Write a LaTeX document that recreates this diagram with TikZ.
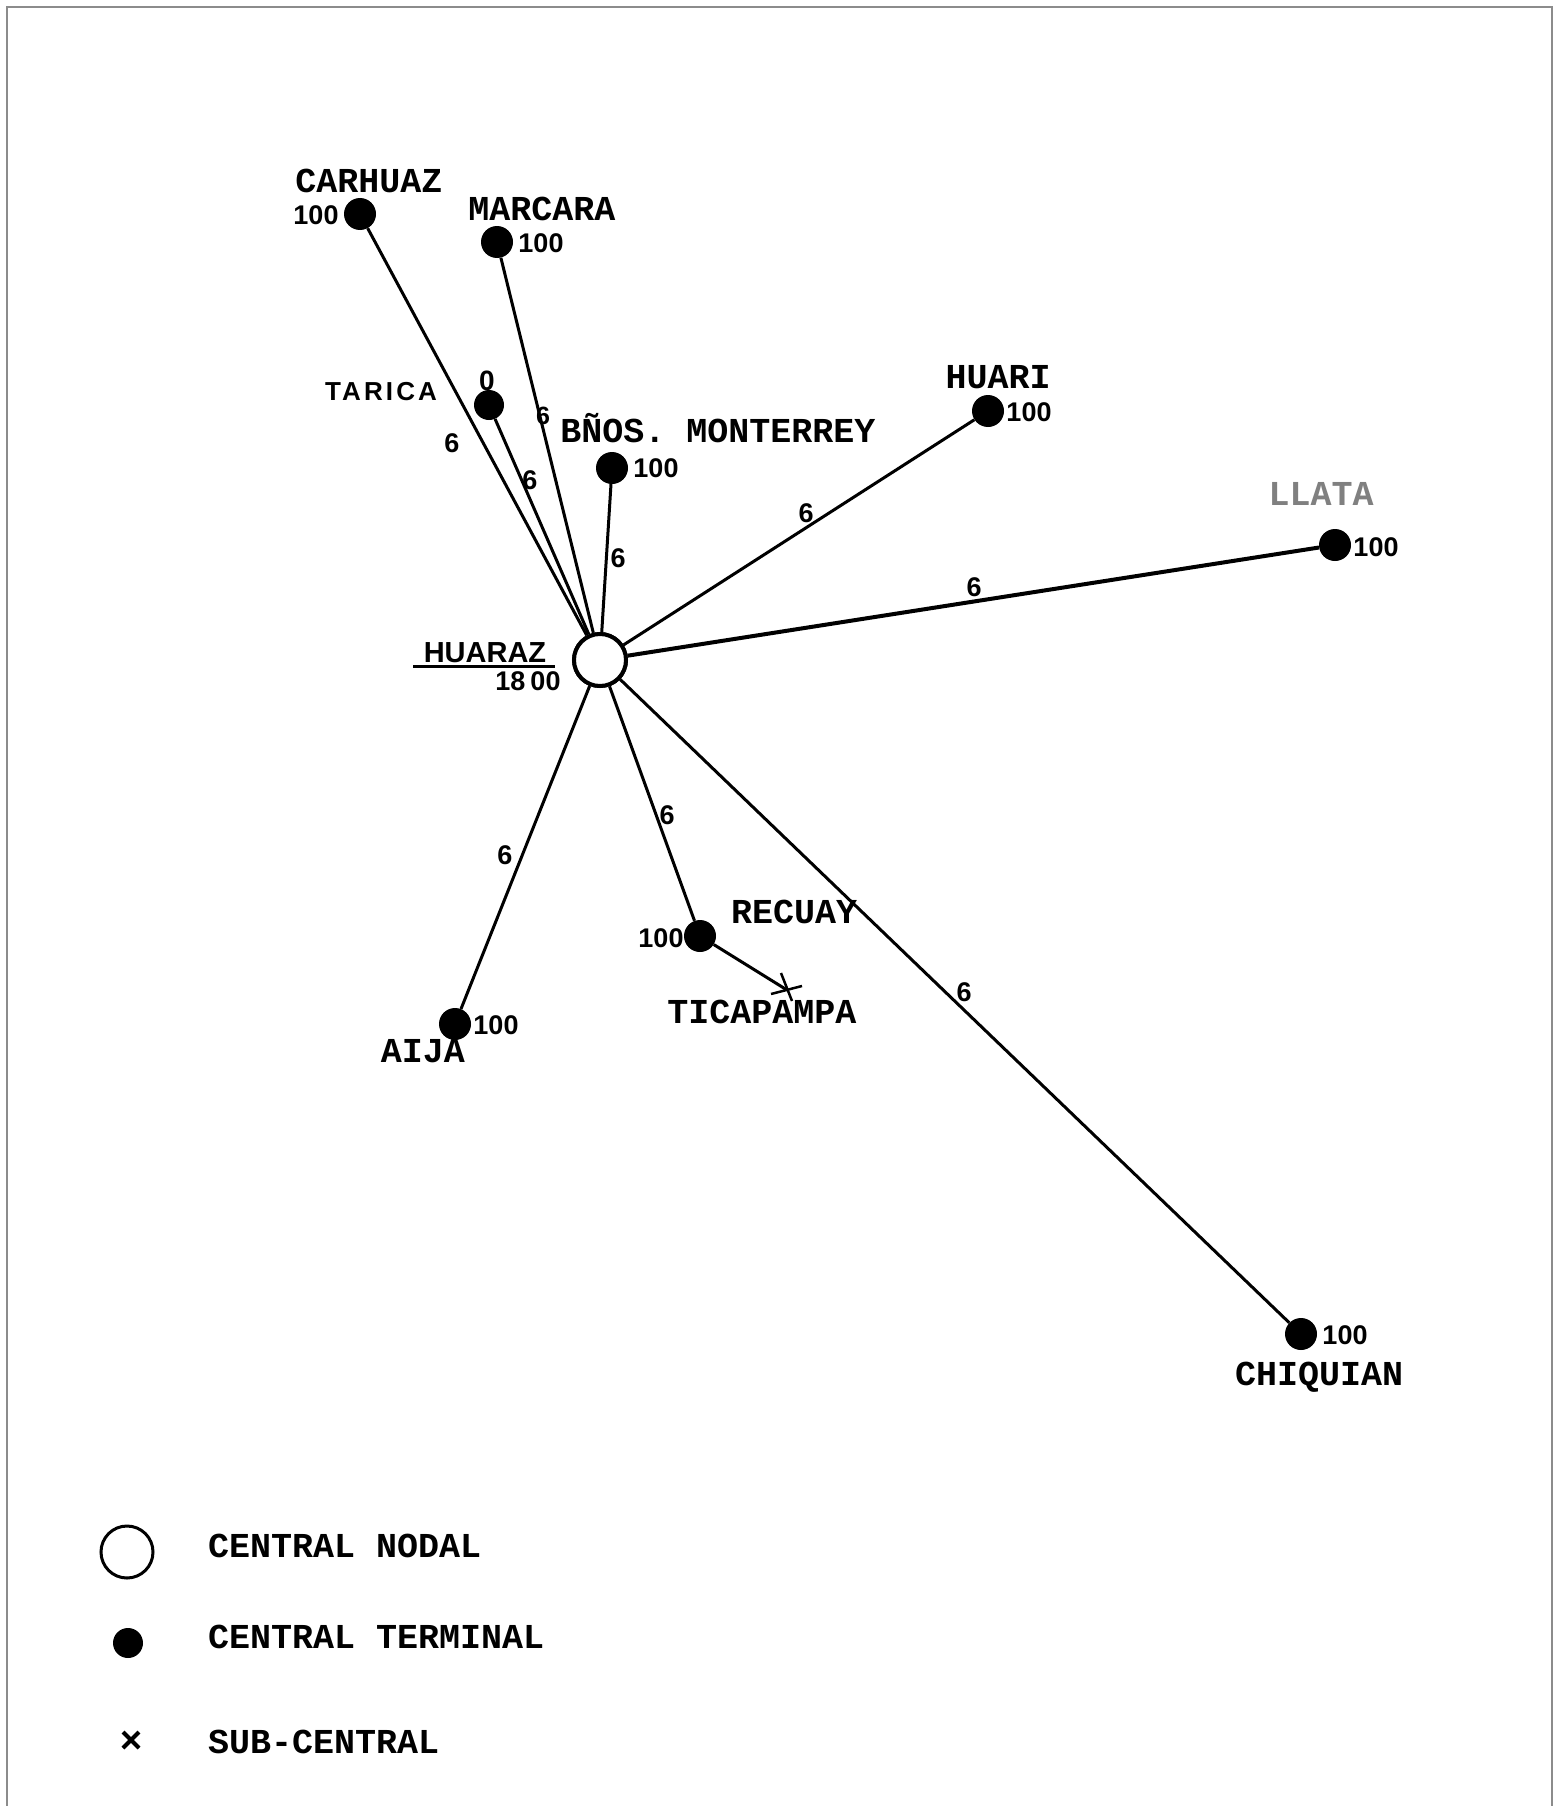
\documentclass[tikz,border=0pt]{standalone}
\usepackage{fontspec}
\newfontfamily\tw{Liberation Mono}
\newfontfamily\lr{Liberation Sans}
\newfontfamily\lrs[LetterSpace=12]{Liberation Sans}
\begin{document}
\begin{tikzpicture}[x=1pt,y=-1pt,
  town/.style={font=\tw\bfseries\fontsize{35}{35}\selectfont, inner sep=0pt, anchor=base},
  num/.style={font=\lr\bfseries\fontsize{27}{27}\selectfont, inner sep=0pt},
  terminal/.style={circle, fill=black, minimum size=32pt, inner sep=0pt},
  nodal/.style={circle, draw, line width=4pt, fill=white, minimum size=52pt, inner sep=0pt},
  link/.style={line width=3pt},
  legend/.style={font=\tw\bfseries\fontsize{35}{35}\selectfont, inner sep=0pt, anchor=base west}]

% page and frame
\useasboundingbox (0,0) rectangle (1556,1806);
\fill[white] (0,0) rectangle (1556,1806);
\draw[black!45, line width=2pt] (7,1806) -- (7,7) -- (1552,7) -- (1552,1806);

% exchanges
\node[nodal] (huaraz) at (600,660) {};
\node[terminal] (carhuaz) at (360,214) {};
\node[terminal] (marcara) at (497,242) {};
\node[terminal, minimum size=30pt] (tarica) at (489,405) {};
\node[terminal] (banos) at (612,468) {};
\node[terminal] (huari) at (988,411) {};
\node[terminal] (llata) at (1335,545) {};
\node[terminal] (chiquian) at (1301,1334) {};
\node[terminal] (recuay) at (700,936) {};
\node[terminal] (aija) at (455,1024) {};
\coordinate (ticapampa) at (787,990);

% links from the nodal exchange
\draw[link] (huaraz) -- (carhuaz);
\draw[link] (huaraz) -- (marcara);
\draw[link] (huaraz) -- (tarica);
\draw[link] (huaraz) -- (banos);
\draw[link] (huaraz) -- (huari);
\draw[link, line width=4pt] (huaraz) -- (llata);
\draw[link] (huaraz) -- (chiquian);
\draw[link] (huaraz) -- (recuay);
\draw[link] (huaraz) -- (aija);
\draw[link] (recuay) -- (ticapampa);
\node[nodal] at (huaraz) {};

% sub-exchange mark
\draw[line width=2.5pt] (781,973) -- (792,1001);
\draw[line width=2.5pt] (771,994) -- (802,986);

% place names
\node[town] (tCarhuaz) at (369,193) {CARHUAZ};
\node[town] (tMarcara) at (542,220) {MARCARA};
\node[town] (tBanos) at (718,442) {BÑOS. MONTERREY};
\node[town] (tHuari) at (998,388) {HUARI};
\node[town, text=black!50] (tLlata) at (1321,505) {LLATA};
\node[town] (tRecuay) at (794,923) {RECUAY};
\node[town] (tTicapampa) at (762,1023) {TICAPAMPA};
\node[town] (tAija) at (423,1062) {AIJA};
\node[town] (tChiquian) at (1319,1385) {CHIQUIAN};
\node[inner sep=0pt, anchor=base, font=\lrs\bfseries\fontsize{26}{26}\selectfont] (tTarica) at (381,400) {TARICA};

% nodal exchange label
\node[inner sep=0pt, anchor=base, font=\lr\bfseries\fontsize{29}{29}\selectfont] (tHuaraz) at (485,662) {HUARAZ};
\draw[line width=3pt] (413,666) -- (555,666);
\node[num, anchor=base] (tHuarazN) at (528,690) {18\hspace{5pt}00};

% line counts at the exchanges
\node[num] (nCarhuaz) at (316,215) {100};
\node[num] (nMarcara) at (541,243) {100};
\node[num] (nBanos) at (656,468) {100};
\node[num] (nHuari) at (1029,412) {100};
\node[num] (nLlata) at (1376,547) {100};
\node[num] (nChiquian) at (1345,1335) {100};
\node[num] (nRecuay) at (661,938) {100};
\node[num] (nAija) at (496,1025) {100};
\node[num, font=\lr\bfseries\fontsize{28}{28}\selectfont] (nTarica) at (487,381) {0};

% circuit counts on the links
\node[num] (cCarhuaz) at (452,443) {6};
\node[num] (cTarica) at (530,480) {6};
\node[num, font=\lr\bfseries\fontsize{25}{25}\selectfont] (cMarcara) at (543,416) {6};
\node[num] (cBanos) at (618,558) {6};
\node[num] (cHuari) at (806,513) {6};
\node[num] (cLlata) at (974,587) {6};
\node[num] (cRecuay) at (667,815) {6};
\node[num] (cAija) at (505,855) {6};
\node[num] (cChiquian) at (964,992) {6};

% legend
\node[circle, draw, line width=3pt, minimum size=52pt, inner sep=0pt] (kNodal) at (127,1552) {};
\node[circle, fill=black, minimum size=30pt, inner sep=0pt] (kTerminal) at (128,1643) {};
\coordinate (kSub) at (131,1740);
\draw[line width=4pt] ([shift={(-8,-8)}]kSub) -- ([shift={(8,8)}]kSub)
                      ([shift={(-8,8)}]kSub) -- ([shift={(8,-8)}]kSub);
\node[legend] (lNodal) at (208,1557) {CENTRAL NODAL};
\node[legend] (lTerminal) at (208,1648) {CENTRAL TERMINAL};
\node[legend] (lSub) at (208,1753) {SUB-CENTRAL};
\end{tikzpicture}
\end{document}
